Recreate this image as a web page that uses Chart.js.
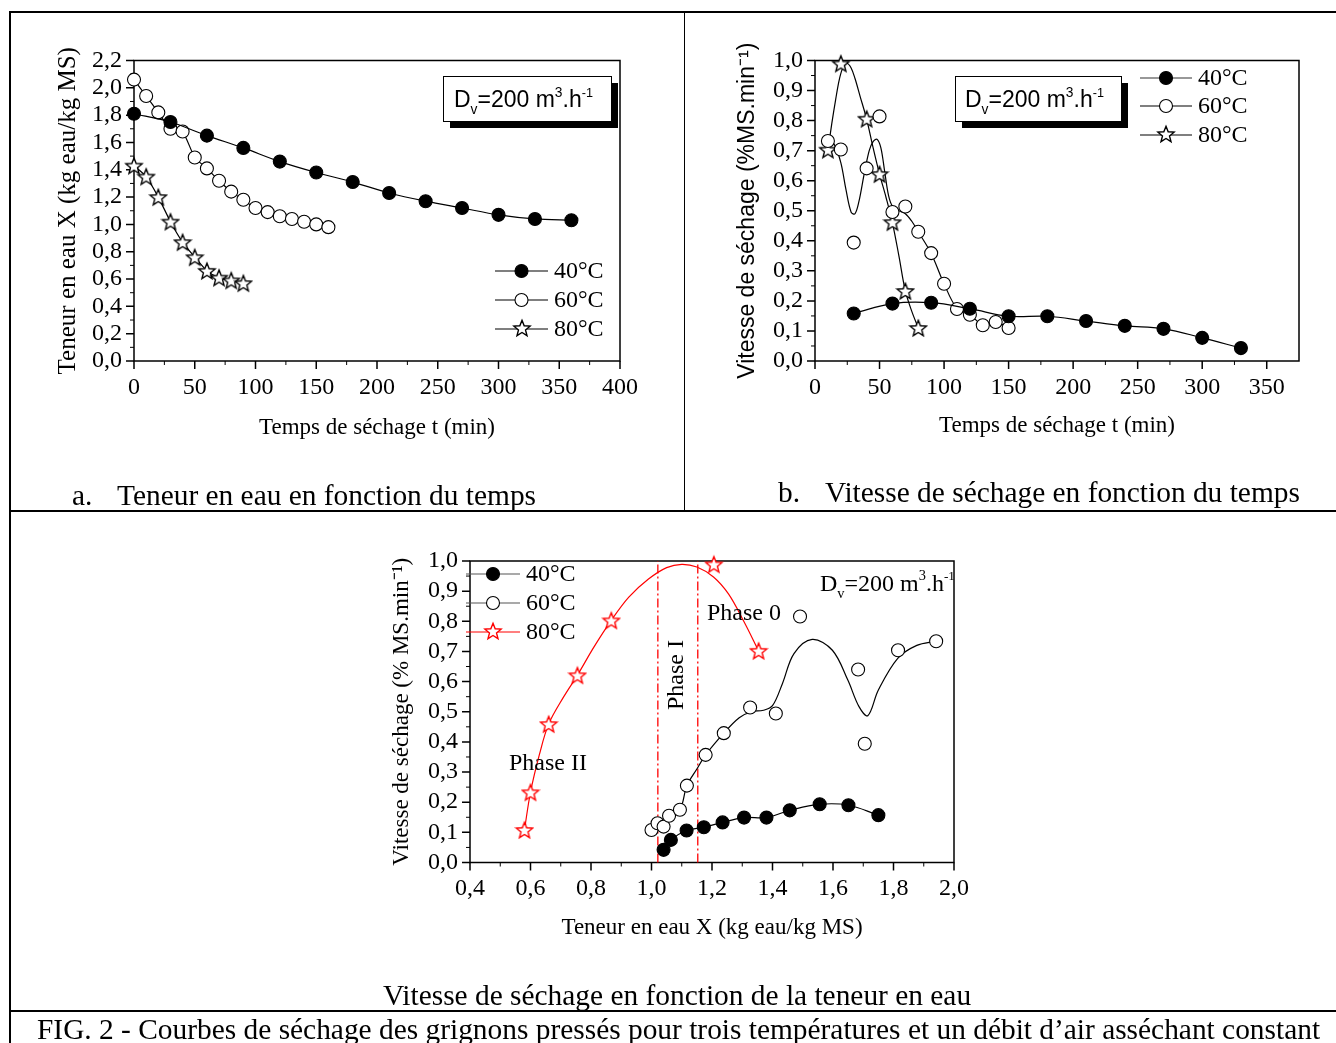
<!DOCTYPE html>
<html>
<head>
<meta charset="utf-8">
<script src="https://cdn.jsdelivr.net/npm/chart.js@4.4.0/dist/chart.umd.min.js"></script>
<style>
body { margin: 0; background: #fff; width: 1336px; height: 1043px; position: relative; overflow: hidden; font-family: 'Liberation Serif', serif; }
canvas { position: absolute; left: 0; top: 0; }
.ln { position: absolute; background: #000; }
.cap { position: absolute; font-size: 29.4px; line-height: 1; white-space: pre; color: #000; }
</style>
</head>
<body>
<div class="ln" style="left:9px;top:11px;width:1327px;height:2px"></div>
<div class="ln" style="left:9px;top:11px;width:2px;height:1032px"></div>
<div class="ln" style="left:684px;top:12px;width:1px;height:500px"></div>
<div class="ln" style="left:9px;top:510px;width:1327px;height:2px"></div>
<div class="ln" style="left:9px;top:1010px;width:1327px;height:2px"></div>

<canvas id="chartA" width="1336" height="1043"></canvas>
<canvas id="chartB" width="1336" height="1043"></canvas>
<canvas id="chartC" width="1336" height="1043"></canvas>

<div class="cap" style="left:72px;top:481px">a.</div>
<div class="cap" style="left:117px;top:481px">Teneur en eau en fonction du temps</div>
<div class="cap" style="left:778px;top:478px">b.</div>
<div class="cap" style="left:825px;top:478px">Vitesse de séchage en fonction du temps</div>
<div class="cap" style="left:0;width:1354px;text-align:center;top:981px">Vitesse de séchage en fonction de la teneur en eau</div>
<div class="cap" style="left:37px;top:1015px">FIG. 2 - Courbes de séchage des grignons pressés pour trois températures et un débit d’air asséchant constant</div>

<script>
// --- a. water content vs time ---
const tA40 = [0, 30, 60, 90, 120, 150, 180, 210, 240, 270, 300, 330, 360];
const xA40 = [1.81, 1.75, 1.65, 1.56, 1.46, 1.38, 1.31, 1.23, 1.17, 1.12, 1.07, 1.04, 1.03];
const tA60 = [0, 10, 20, 30, 40, 50, 60, 70, 80, 90, 100, 110, 120, 130, 140, 150, 160];
const xA60 = [2.06, 1.94, 1.82, 1.70, 1.68, 1.49, 1.41, 1.32, 1.24, 1.18, 1.12, 1.09, 1.06, 1.04, 1.02, 1.00, 0.98];
const tA80 = [0, 10, 20, 30, 40, 50, 60, 70, 80, 90];
const xA80 = [1.43, 1.35, 1.20, 1.02, 0.87, 0.76, 0.66, 0.61, 0.59, 0.57];

// --- b. drying rate vs time ---
const tB40 = [30, 60, 90, 120, 150, 180, 210, 240, 270, 300, 330];
const vB40 = [0.158, 0.191, 0.194, 0.174, 0.149, 0.149, 0.133, 0.117, 0.107, 0.077, 0.043];
const tB60 = [10, 20, 30, 40, 50, 60, 70, 80, 90, 100, 110, 120, 130, 140, 150];
const vB60 = [0.732, 0.704, 0.394, 0.641, 0.814, 0.496, 0.514, 0.43, 0.359, 0.257, 0.173, 0.154, 0.119, 0.13, 0.11];
const tB80 = [10, 20, 40, 50, 60, 70, 80];
const vB80 = [0.703, 0.99, 0.806, 0.622, 0.462, 0.233, 0.11];
// smoothed curves
const tB60fit = [10, 15, 20, 24, 28, 31, 34, 38, 42, 45, 48, 51, 54, 57, 60, 65, 70, 75, 80, 90, 100, 110, 120, 130, 140, 150];
const vB60fit = [0.736, 0.72, 0.66, 0.57, 0.495, 0.49, 0.53, 0.62, 0.70, 0.73, 0.738, 0.71, 0.63, 0.55, 0.515, 0.50, 0.49, 0.465, 0.43, 0.358, 0.257, 0.175, 0.155, 0.12, 0.13, 0.11];
const tB80fit = [10, 13, 16, 19, 22, 25, 28, 31, 35, 40, 45, 50, 55, 60, 65, 70, 75, 80];
const vB80fit = [0.70, 0.79, 0.87, 0.94, 0.98, 0.99, 0.975, 0.94, 0.88, 0.805, 0.71, 0.622, 0.545, 0.46, 0.35, 0.233, 0.165, 0.11];

// --- c. drying rate vs water content ---
const xC40 = [1.04, 1.064, 1.116, 1.173, 1.235, 1.306, 1.38, 1.457, 1.556, 1.651, 1.75];
const vC40 = [0.042, 0.075, 0.106, 0.117, 0.133, 0.149, 0.149, 0.173, 0.193, 0.19, 0.157];
const xC60 = [1.00, 1.02, 1.04, 1.058, 1.094, 1.117, 1.179, 1.239, 1.326, 1.411, 1.491, 1.683, 1.705, 1.815, 1.941];
const vC60 = [0.108, 0.13, 0.119, 0.155, 0.175, 0.255, 0.357, 0.429, 0.514, 0.494, 0.816, 0.640, 0.394, 0.704, 0.734];
const xC80 = [0.58, 0.60, 0.66, 0.755, 0.867, 1.206, 1.354];
const vC80 = [0.108, 0.233, 0.459, 0.621, 0.803, 0.989, 0.702];
const xC60fit = [1.00, 1.02, 1.04, 1.058, 1.094, 1.117, 1.15, 1.179, 1.239, 1.29, 1.33, 1.37, 1.40, 1.433, 1.471, 1.531, 1.598, 1.649, 1.686, 1.715, 1.75, 1.814, 1.877, 1.94];
const vC60fit = [0.108, 0.13, 0.119, 0.155, 0.175, 0.255, 0.31, 0.357, 0.429, 0.48, 0.50, 0.505, 0.52, 0.594, 0.693, 0.74, 0.704, 0.605, 0.517, 0.487, 0.572, 0.677, 0.72, 0.734];
const xC80fit = [0.58, 0.60, 0.63, 0.66, 0.71, 0.755, 0.81, 0.867, 0.925, 0.99, 1.05, 1.10, 1.15, 1.205, 1.255, 1.305, 1.354];
const vC80fit = [0.108, 0.233, 0.36, 0.459, 0.55, 0.621, 0.715, 0.803, 0.88, 0.94, 0.978, 0.989, 0.98, 0.947, 0.89, 0.80, 0.702];
const phaseX = [1.021, 1.153];

// tick labels
const ticksAx = [0, 50, 100, 150, 200, 250, 300, 350, 400];
const ticksAy = [0, 0.2, 0.4, 0.6, 0.8, 1.0, 1.2, 1.4, 1.6, 1.8, 2.0, 2.2];
const ticksBx = [0, 50, 100, 150, 200, 250, 300, 350];
const ticksBy = [0, 0.1, 0.2, 0.3, 0.4, 0.5, 0.6, 0.7, 0.8, 0.9, 1.0];
const ticksCx = [0.4, 0.6, 0.8, 1.0, 1.2, 1.4, 1.6, 1.8, 2.0];
const ticksCy = [0, 0.1, 0.2, 0.3, 0.4, 0.5, 0.6, 0.7, 0.8, 0.9, 1.0];

const W = 1336, H = 1043;
const SERIF = 'Liberation Serif';
const SANS = 'Liberation Sans';
const RED = '#ff0000';

function pts(xs, ys) { return xs.map((x, i) => ({ x: x, y: ys[i] })); }
function fmt(v, dec) { return Number(v).toFixed(dec).replace('.', ','); }

function starImg(color) {
    const c = document.createElement('canvas');
    c.width = c.height = 20;
    const g = c.getContext('2d');
    g.beginPath();
    for (let i = 0; i < 10; i++) {
        const r = i % 2 ? 3.7 : 8.5;
        const a = -Math.PI / 2 + i * Math.PI / 5;
        g.lineTo(10 + r * Math.cos(a), 10.8 + r * Math.sin(a));
    }
    g.closePath();
    g.fillStyle = '#fff';
    g.fill();
    g.lineWidth = 1.4;
    g.strokeStyle = color;
    g.stroke();
    return c;
}
const starBlack = starImg('#000');
const starRed = starImg(RED);

// frame, major and minor ticks drawn under the markers
Chart.register({
    id: 'axesFrame',
    beforeDatasetsDraw(chart) {
        const { ctx, chartArea: a, scales } = chart;
        const x = scales.x, y = scales.y;
        ctx.save();
        ctx.strokeStyle = '#000';
        ctx.lineWidth = 1.5;
        ctx.strokeRect(a.left, a.top, a.right - a.left, a.bottom - a.top);
        ctx.beginPath();
        x.ticks.forEach(t => { const p = x.getPixelForValue(t.value); ctx.moveTo(p, a.bottom); ctx.lineTo(p, a.bottom + 8); });
        y.ticks.forEach(t => { const p = y.getPixelForValue(t.value); ctx.moveTo(a.left, p); ctx.lineTo(a.left - 8, p); });
        ctx.stroke();
        ctx.lineWidth = 1;
        ctx.beginPath();
        for (let i = 0; i < x.ticks.length - 1; i++) {
            const p = x.getPixelForValue((x.ticks[i].value + x.ticks[i + 1].value) / 2);
            ctx.moveTo(p, a.bottom); ctx.lineTo(p, a.bottom + 4);
        }
        for (let i = 0; i < y.ticks.length - 1; i++) {
            const p = y.getPixelForValue((y.ticks[i].value + y.ticks[i + 1].value) / 2);
            ctx.moveTo(a.left, p); ctx.lineTo(a.left - 4, p);
        }
        ctx.stroke();
        ctx.restore();
    }
});

function scale(cfg, horizontal, size) {
    const s = {
        type: 'linear',
        min: cfg.min,
        max: cfg.max,
        grid: { display: false, drawTicks: false },
        border: { display: false },
        afterBuildTicks: sc => { sc.ticks = cfg.ticks.map(v => ({ value: v })); },
        ticks: {
            autoSkip: false, maxRotation: 0, padding: 12, color: '#000',
            font: { family: SERIF, size: 24 },
            callback: v => fmt(v, cfg.dec)
        },
        title: { display: true, text: cfg.title, color: '#000', padding: 0, font: { family: cfg.family, size: cfg.titleSize } }
    };
    if (horizontal) s.afterFit = sc => { sc.height = size; };
    else s.afterFit = sc => { sc.width = size; };
    return s;
}

function makeChart(id, geo, xs, ys, datasets, deco) {
    const lhY = ys.titleSize * 1.2, lhX = xs.titleSize * 1.2;
    const padL = geo.yTitleX - lhY / 2;
    const padB = H - (geo.xTitleY + lhX / 2);
    return new Chart(document.getElementById(id), {
        type: 'scatter',
        data: { datasets: datasets },
        options: {
            responsive: false,
            animation: false,
            devicePixelRatio: 1,
            layout: { padding: { left: padL, top: geo.top, right: W - geo.right, bottom: padB } },
            plugins: { legend: { display: false }, tooltip: { enabled: false } },
            scales: {
                x: scale(xs, true, geo.xTitleY + lhX / 2 - geo.bottom),
                y: scale(ys, false, geo.left - padL)
            }
        },
        plugins: [deco]
    });
}

// dataset helpers
function markers(data, kind, color) {
    const d = { data: data, showLine: false, clip: false, borderColor: color || '#000', borderWidth: 1.1 };
    if (kind === 'star') {
        d.pointStyle = color === RED ? starRed : starBlack;
    } else {
        d.pointStyle = 'circle';
        d.pointRadius = 6.5;
        d.pointBorderColor = '#000';
        d.pointBorderWidth = 1.1;
        d.pointBackgroundColor = kind === 'filled' ? '#000' : '#fff';
    }
    return d;
}
function curve(data, color, tension) {
    return { data: data, showLine: true, pointRadius: 0, borderColor: color || '#000', borderWidth: 1.2, tension: tension, clip: false };
}
function withLine(d, tension) {
    d.showLine = true;
    d.tension = tension;
    d.borderWidth = 1.2;
    return d;
}

// text helpers
function richText(ctx, x, y, fam, size, parts) {
    ctx.fillStyle = '#000';
    ctx.textAlign = 'left';
    ctx.textBaseline = 'alphabetic';
    let cx = x;
    parts.forEach(p => {
        const sz = size * p[1];
        ctx.font = sz + 'px "' + fam + '"';
        ctx.fillText(p[0], cx, y + size * p[2]);
        cx += ctx.measureText(p[0]).width;
    });
}
const dvParts = [['D', 1, 0], ['v', 0.6, 0.3], ['=200 m', 1, 0], ['3', 0.6, -0.45], ['.h', 1, 0], ['-1', 0.55, -0.45]];

function dvBox(ctx, x, y, w, h) {
    ctx.fillStyle = '#000';
    ctx.fillRect(x + 7, y + 7, w, h);
    ctx.fillStyle = '#fff';
    ctx.fillRect(x, y, w, h);
    ctx.strokeStyle = '#000';
    ctx.lineWidth = 1;
    ctx.strokeRect(x + 0.5, y + 0.5, w, h);
}

function legendRow(ctx, x0, x1, y, kind, label, lineColor, starColor) {
    ctx.strokeStyle = lineColor;
    ctx.lineWidth = 1.2;
    ctx.beginPath();
    ctx.moveTo(x0, y); ctx.lineTo(x1, y);
    ctx.stroke();
    const cx = (x0 + x1) / 2;
    if (kind === 'star') {
        ctx.drawImage(starColor === RED ? starRed : starBlack, Math.round(cx - 10), Math.round(y - 11));
    } else {
        ctx.beginPath();
        ctx.arc(cx, y, 6.5, 0, Math.PI * 2);
        ctx.fillStyle = kind === 'filled' ? '#000' : '#fff';
        ctx.fill();
        ctx.strokeStyle = '#000';
        ctx.lineWidth = 1.1;
        ctx.stroke();
    }
    ctx.fillStyle = '#000';
    ctx.font = '24px "' + SERIF + '"';
    ctx.textAlign = 'left';
    ctx.textBaseline = 'middle';
    ctx.fillText(label, x1 + 6, y + 1);
}

// ---------- chart a ----------
makeChart('chartA',
    { left: 134, right: 620, top: 60.5, bottom: 361, yTitleX: 68, xTitleY: 428 },
    { min: 0, max: 400, ticks: ticksAx, dec: 0, title: 'Temps de séchage t (min)', family: SERIF, titleSize: 23 },
    { min: 0, max: 2.2, ticks: ticksAy, dec: 1, title: 'Teneur en eau X (kg eau/kg MS)', family: SERIF, titleSize: 25 },
    [
        withLine(markers(pts(tA40, xA40), 'filled'), 0.3),
        withLine(markers(pts(tA60, xA60), 'open'), 0.2),
        withLine(markers(pts(tA80, xA80), 'star'), 0.2)
    ],
    {
        id: 'decoA',
        afterDraw(chart) {
            const ctx = chart.ctx;
            ctx.save();
            dvBox(ctx, 443, 76, 168, 45);
            richText(ctx, 454, 107, SANS, 23, dvParts);
            legendRow(ctx, 495, 548, 271, 'filled', '40°C', '#000');
            legendRow(ctx, 495, 548, 300, 'open', '60°C', '#000');
            legendRow(ctx, 495, 548, 329, 'star', '80°C', '#000');
            ctx.restore();
        }
    }
);

// ---------- chart b ----------
makeChart('chartB',
    { left: 815, right: 1299, top: 60.5, bottom: 361, yTitleX: 748, xTitleY: 426 },
    { min: 0, max: 375, ticks: ticksBx, dec: 0, title: 'Temps de séchage t (min)', family: SERIF, titleSize: 23 },
    { min: 0, max: 1.0, ticks: ticksBy, dec: 1, title: 'Vitesse de séchage (%MS.min⁻¹)', family: SANS, titleSize: 23 },
    [
        withLine(markers(pts(tB40, vB40), 'filled'), 0.4),
        markers(pts(tB60, vB60), 'open'),
        markers(pts(tB80, vB80), 'star'),
        curve(pts(tB60fit, vB60fit), '#000', 0.35),
        curve(pts(tB80fit, vB80fit), '#000', 0.35)
    ],
    {
        id: 'decoB',
        afterDraw(chart) {
            const ctx = chart.ctx;
            ctx.save();
            dvBox(ctx, 955, 76, 166, 45);
            richText(ctx, 965, 107, SANS, 23, dvParts);
            legendRow(ctx, 1140, 1192, 78, 'filled', '40°C', '#333');
            legendRow(ctx, 1140, 1192, 106, 'open', '60°C', '#000');
            legendRow(ctx, 1140, 1192, 135, 'star', '80°C', '#000');
            ctx.restore();
        }
    }
);

// ---------- chart c ----------
makeChart('chartC',
    { left: 470, right: 954, top: 561, bottom: 862.5, yTitleX: 402, xTitleY: 928 },
    { min: 0.4, max: 2.0, ticks: ticksCx, dec: 1, title: 'Teneur en eau X (kg eau/kg MS)', family: SERIF, titleSize: 23 },
    { min: 0, max: 1.0, ticks: ticksCy, dec: 1, title: 'Vitesse de séchage (% MS.min⁻¹)', family: SERIF, titleSize: 23 },
    [
        withLine(markers(pts(xC40, vC40), 'filled'), 0.4),
        markers(pts(xC60, vC60), 'open'),
        markers(pts(xC80, vC80), 'star', RED),
        curve(pts(xC60fit, vC60fit), '#000', 0.35),
        curve(pts(xC80fit, vC80fit), RED, 0.35),
        Object.assign(curve(pts([phaseX[0], phaseX[0]], [0, 1]), RED, 0), { borderDash: [9, 3, 2, 3], borderWidth: 1.3 }),
        Object.assign(curve(pts([phaseX[1], phaseX[1]], [0, 1]), RED, 0), { borderDash: [9, 3, 2, 3], borderWidth: 1.3 })
    ],
    {
        id: 'decoC',
        afterDraw(chart) {
            const ctx = chart.ctx;
            ctx.save();
            richText(ctx, 820, 591, SERIF, 24, dvParts);
            legendRow(ctx, 466, 520, 574, 'filled', '40°C', '#555');
            legendRow(ctx, 466, 520, 603, 'open', '60°C', '#555');
            legendRow(ctx, 466, 520, 632, 'star', '80°C', RED, RED);
            ctx.fillStyle = '#000';
            ctx.font = '24px "' + SERIF + '"';
            ctx.textBaseline = 'alphabetic';
            ctx.textAlign = 'left';
            ctx.fillText('Phase 0', 707, 620);
            ctx.fillText('Phase II', 509, 770);
            ctx.translate(677, 675);
            ctx.rotate(-Math.PI / 2);
            ctx.textAlign = 'center';
            ctx.textBaseline = 'middle';
            ctx.fillText('Phase I', 0, 0);
            ctx.restore();
        }
    }
);
</script>
</body>
</html>
